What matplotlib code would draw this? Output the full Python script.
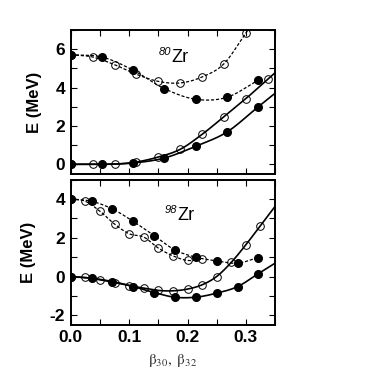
import numpy as np
import matplotlib
matplotlib.use('Agg')
import matplotlib.pyplot as plt
from matplotlib.ticker import MultipleLocator

plt.rcParams['font.family'] = ['Liberation Sans', 'DejaVu Sans']
plt.rcParams['axes.unicode_minus'] = False

# ── data ─────────────────────────────────────────────────
# 80Zr
x80_filled = [0.0, 0.0535, 0.107, 0.1605, 0.214, 0.2675, 0.321]
e80_filled_low = [0.0, 0.0, 0.07, 0.33, 0.94, 1.68, 2.99]
e80_filled_up = [5.71, 5.59, 4.90, 3.94, 3.39, 3.49, 4.38]
x80_open = [0.0, 0.0375, 0.075, 0.1125, 0.15, 0.1875, 0.225, 0.2625, 0.3, 0.3375]
e80_open_low = [0.0, 0.0, 0.01, 0.12, 0.38, 0.78, 1.56, 2.48, 3.42, 4.43]
x80_open_up = [0.0, 0.0375, 0.075, 0.1125, 0.15, 0.1875, 0.225, 0.2625, 0.3]
e80_open_up = [5.71, 5.59, 5.19, 4.69, 4.32, 4.24, 4.55, 5.24, 6.84]

# 98Zr
x98_filled = [0.0, 0.0357, 0.0714, 0.107, 0.143, 0.178, 0.214, 0.25, 0.286, 0.321]
e98_filled_low = [0.0, -0.09, -0.26, -0.52, -0.83, -1.07, -1.07, -0.86, -0.52, 0.14]
e98_filled_up = [4.01, 3.89, 3.49, 2.85, 2.11, 1.38, 1.00, 0.81, 0.69, 0.98]
x98_open = [0.0, 0.025, 0.05, 0.075, 0.1, 0.125, 0.15, 0.175, 0.2, 0.225,
            0.25, 0.275, 0.3, 0.325]
e98_open_low = [0.0, -0.05, -0.17, -0.31, -0.47, -0.60, -0.72, -0.74, -0.65, -0.43,
                0.0, 0.73, 1.64, 2.63]
x98_open_up = [0.0, 0.025, 0.05, 0.075, 0.1, 0.125, 0.15, 0.175, 0.2, 0.225]
e98_open_up = [4.01, 3.89, 3.37, 2.71, 2.21, 2.04, 1.47, 1.07, 0.83, 0.90]

XMAX = 0.35


def smooth(x, y, x_end=None, n=25):
    """Cubic Hermite curve through the points, optional straight run-out."""
    x = np.asarray(x, float)
    y = np.asarray(y, float)
    m = np.gradient(y, x)
    xs, ys = [], []
    t = np.linspace(0, 1, n)
    for i in range(len(x) - 1):
        h = x[i + 1] - x[i]
        h00 = 2 * t**3 - 3 * t**2 + 1
        h10 = t**3 - 2 * t**2 + t
        h01 = -2 * t**3 + 3 * t**2
        h11 = t**3 - t**2
        xs.append(x[i] + h * t)
        ys.append(h00 * y[i] + h10 * h * m[i] + h01 * y[i + 1] + h11 * h * m[i + 1])
    if x_end is not None:
        slope = (y[-1] - y[-2]) / (x[-1] - x[-2])
        xe = np.linspace(x[-1], x_end, 5)
        xs.append(xe)
        ys.append(y[-1] + slope * (xe - x[-1]))
    return np.concatenate(xs), np.concatenate(ys)


def draw(ax, x, y, filled, ls, x_end=None):
    cx, cy = smooth(x, y, x_end)
    lw = 1.2 if ls == '-' else 0.9
    dash = (0, (2.5, 1.5)) if ls == '--' else '-'
    ax.plot(cx, cy, color='black', lw=lw, linestyle=dash, zorder=2)
    if filled:
        ax.plot(x, y, 'o', ms=5.5, mfc='black', mec='black', zorder=4)
    else:
        ax.plot(x, y, 'o', ms=5.5, mfc='none', mec='black', mew=0.7, zorder=3)


def style(ax, ymin, ymax):
    ax.set_xlim(0, XMAX)
    ax.set_ylim(ymin, ymax)
    ax.xaxis.set_major_locator(MultipleLocator(0.1))
    ax.xaxis.set_minor_locator(MultipleLocator(0.05))
    ax.yaxis.set_major_locator(MultipleLocator(2))
    ax.yaxis.set_minor_locator(MultipleLocator(1))
    ax.tick_params(which='both', direction='in', top=True, right=True,
                   length=4, width=0.8)
    ax.tick_params(which='major', labelsize=12.5, pad=4)
    for lab in ax.get_xticklabels() + ax.get_yticklabels():
        lab.set_fontweight('bold')
    for sp in ax.spines.values():
        sp.set_linewidth(1.4)
    ax.set_ylabel('E (MeV)', fontsize=12, fontweight='bold', labelpad=10)


fig = plt.figure(figsize=(3.83, 3.70), dpi=100)
ax1 = fig.add_axes([0.185, 0.530, 0.533, 0.389])
ax2 = fig.add_axes([0.185, 0.122, 0.533, 0.392])

# 80Zr panel
draw(ax1, x80_open, e80_open_low, False, '-', XMAX)
draw(ax1, x80_filled, e80_filled_low, True, '-', XMAX)
draw(ax1, x80_open_up, e80_open_up, False, '--', XMAX)
draw(ax1, x80_filled, e80_filled_up, True, '--')
style(ax1, -0.5, 7)
ax1.set_yticks([0, 2, 4, 6])
ax1.tick_params(labelbottom=False)
ax1.text(0.172, 5.55, 'Zr', fontsize=13, ha='left', va='center')
ax1.text(0.172, 5.85, '80', fontsize=8, style='italic', ha='right', va='center')

# 98Zr panel
draw(ax2, x98_open, e98_open_low, False, '-', XMAX)
draw(ax2, x98_filled, e98_filled_low, True, '-', XMAX)
draw(ax2, x98_open_up, e98_open_up, False, '--')
draw(ax2, x98_filled, e98_filled_up, True, '--')
style(ax2, -2.5, 5)
ax2.set_yticks([-2, 0, 2, 4])
ax2.set_xticks([0.0, 0.1, 0.2, 0.3])
ax2.set_xticklabels(['0.0', '0.1', '0.2', '0.3'], fontweight='bold')
ax2.text(0.183, 3.15, 'Zr', fontsize=13, ha='left', va='center')
ax2.text(0.183, 3.45, '98', fontsize=8, style='italic', ha='right', va='center')
ax2.set_xlabel(r'$\mathrm{\beta_{30},\ \beta_{32}}$', fontsize=11,
               math_fontfamily='stix', color='#333333', labelpad=5)

fig.savefig('out.png', dpi=100)
